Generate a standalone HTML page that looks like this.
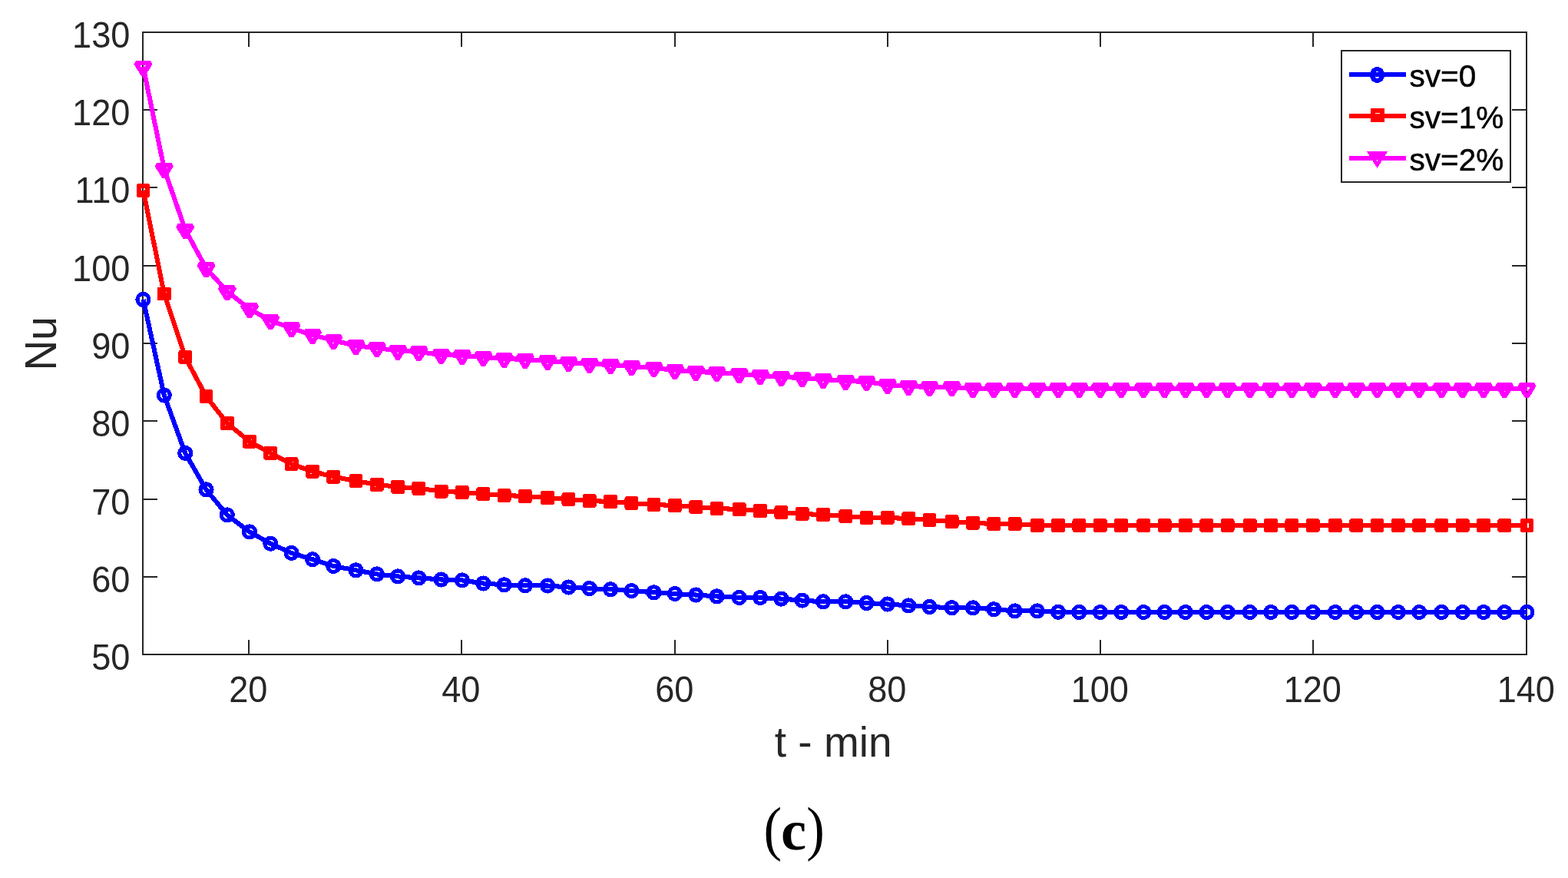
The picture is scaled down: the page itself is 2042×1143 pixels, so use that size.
<!DOCTYPE html>
<html lang="en">
<head>
<meta charset="utf-8">
<title>Nu versus t - min</title>
<style>
html,body{margin:0;padding:0;background:#fff;}
body{width:2042px;height:1143px;overflow:hidden;}
svg{display:block;}
</style>
</head>
<body>
<svg width="2042" height="1143" viewBox="0 0 2042 1143" role="img" aria-label="Nu versus t - min">
<rect x="0" y="0" width="2042" height="1143" fill="#fff"/>
<g fill="none" stroke="#262626" stroke-width="2" shape-rendering="crispEdges">
<rect x="186" y="42" width="1802" height="810"/>
<path d="M324 852V833M324 42V61M601 852V833M601 42V61M879 852V833M879 42V61M1156 852V833M1156 42V61M1433 852V833M1433 42V61M1710 852V833M1710 42V61M186 143H205M1988 143H1969M186 244H205M1988 244H1969M186 346H205M1988 346H1969M186 447H205M1988 447H1969M186 548H205M1988 548H1969M186 650H205M1988 650H1969M186 751H205M1988 751H1969"/>
</g>
<defs>
<circle id="mc" cx="0" cy="0" r="7.5" fill="none" stroke="#0000ff" stroke-width="5.2"/>
<rect id="ms" x="-5.9" y="-5.9" width="11.8" height="11.8" fill="none" stroke="#ff0000" stroke-width="6.1" stroke-linejoin="round"/>
<path id="mt" d="M-9.5 -4.85H9.5L0 10.5Z" fill="none" stroke="#ff00ff" stroke-width="6.1" stroke-linejoin="bevel"/>
<ellipse id="lc" cx="0" cy="0" rx="6.6" ry="7.45" fill="none" stroke="#0000ff" stroke-width="6"/>
<rect id="ls" x="-6" y="-6" width="12" height="12" fill="none" stroke="#ff0000" stroke-width="6"/>
<path id="lt" d="M-8.4 -5.6H8.4L0 7.9Z" fill="none" stroke="#ff00ff" stroke-width="6"/>
</defs>
<polyline points="186.5,390.0 213.8,514.5 241.2,589.9 268.5,637.4 295.8,670.4 325.0,692.4 352.3,707.7 379.6,719.9 407.0,728.2 434.3,737.0 463.5,742.4 490.8,747.4 518.1,750.4 545.4,752.4 574.6,754.5 601.9,755.4 629.3,759.5 656.6,761.3 683.9,762.3 713.1,762.5 740.4,764.5 767.7,766.1 795.1,767.3 822.4,769.1 851.5,771.3 878.9,773.0 906.2,774.5 933.5,776.4 962.7,778.0 990.0,778.0 1017.4,779.6 1044.7,781.6 1072.0,783.3 1101.2,783.3 1128.5,785.0 1155.8,786.5 1183.2,788.4 1210.5,790.0 1239.6,791.2 1267.0,791.4 1294.3,793.2 1321.6,795.4 1350.8,795.4 1378.1,796.8 1405.4,797.0 1432.8,797.0 1460.1,797.0 1489.3,797.0 1516.6,797.0 1543.9,797.0 1571.3,797.0 1598.6,797.0 1627.7,797.0 1655.1,797.0 1682.4,797.0 1709.7,797.0 1738.9,797.0 1766.2,797.0 1793.5,797.0 1820.9,797.0 1848.2,797.0 1877.4,797.0 1904.7,797.0 1932.0,797.0 1959.3,797.0 1988.5,797.0" fill="none" stroke="#0000ff" stroke-width="6.1" stroke-linejoin="round" shape-rendering="crispEdges"/>
<g shape-rendering="crispEdges"><use href="#mc" x="186.5" y="390.0"/><use href="#mc" x="213.8" y="514.5"/><use href="#mc" x="241.2" y="589.9"/><use href="#mc" x="268.5" y="637.4"/><use href="#mc" x="295.8" y="670.4"/><use href="#mc" x="325.0" y="692.4"/><use href="#mc" x="352.3" y="707.7"/><use href="#mc" x="379.6" y="719.9"/><use href="#mc" x="407.0" y="728.2"/><use href="#mc" x="434.3" y="737.0"/><use href="#mc" x="463.5" y="742.4"/><use href="#mc" x="490.8" y="747.4"/><use href="#mc" x="518.1" y="750.4"/><use href="#mc" x="545.4" y="752.4"/><use href="#mc" x="574.6" y="754.5"/><use href="#mc" x="601.9" y="755.4"/><use href="#mc" x="629.3" y="759.5"/><use href="#mc" x="656.6" y="761.3"/><use href="#mc" x="683.9" y="762.3"/><use href="#mc" x="713.1" y="762.5"/><use href="#mc" x="740.4" y="764.5"/><use href="#mc" x="767.7" y="766.1"/><use href="#mc" x="795.1" y="767.3"/><use href="#mc" x="822.4" y="769.1"/><use href="#mc" x="851.5" y="771.3"/><use href="#mc" x="878.9" y="773.0"/><use href="#mc" x="906.2" y="774.5"/><use href="#mc" x="933.5" y="776.4"/><use href="#mc" x="962.7" y="778.0"/><use href="#mc" x="990.0" y="778.0"/><use href="#mc" x="1017.4" y="779.6"/><use href="#mc" x="1044.7" y="781.6"/><use href="#mc" x="1072.0" y="783.3"/><use href="#mc" x="1101.2" y="783.3"/><use href="#mc" x="1128.5" y="785.0"/><use href="#mc" x="1155.8" y="786.5"/><use href="#mc" x="1183.2" y="788.4"/><use href="#mc" x="1210.5" y="790.0"/><use href="#mc" x="1239.6" y="791.2"/><use href="#mc" x="1267.0" y="791.4"/><use href="#mc" x="1294.3" y="793.2"/><use href="#mc" x="1321.6" y="795.4"/><use href="#mc" x="1350.8" y="795.4"/><use href="#mc" x="1378.1" y="796.8"/><use href="#mc" x="1405.4" y="797.0"/><use href="#mc" x="1432.8" y="797.0"/><use href="#mc" x="1460.1" y="797.0"/><use href="#mc" x="1489.3" y="797.0"/><use href="#mc" x="1516.6" y="797.0"/><use href="#mc" x="1543.9" y="797.0"/><use href="#mc" x="1571.3" y="797.0"/><use href="#mc" x="1598.6" y="797.0"/><use href="#mc" x="1627.7" y="797.0"/><use href="#mc" x="1655.1" y="797.0"/><use href="#mc" x="1682.4" y="797.0"/><use href="#mc" x="1709.7" y="797.0"/><use href="#mc" x="1738.9" y="797.0"/><use href="#mc" x="1766.2" y="797.0"/><use href="#mc" x="1793.5" y="797.0"/><use href="#mc" x="1820.9" y="797.0"/><use href="#mc" x="1848.2" y="797.0"/><use href="#mc" x="1877.4" y="797.0"/><use href="#mc" x="1904.7" y="797.0"/><use href="#mc" x="1932.0" y="797.0"/><use href="#mc" x="1959.3" y="797.0"/><use href="#mc" x="1988.5" y="797.0"/></g>
<polyline points="186.5,247.9 213.8,382.5 241.2,464.9 268.5,516.2 295.8,550.8 325.0,574.9 352.3,589.9 379.6,604.1 407.0,613.7 434.3,620.7 463.5,626.1 490.8,630.8 518.1,633.9 545.4,635.8 574.6,639.6 601.9,641.0 629.3,643.0 656.6,645.0 683.9,646.0 713.1,648.0 740.4,650.0 767.7,652.0 795.1,653.0 822.4,655.0 851.5,657.0 878.9,658.0 906.2,660.0 933.5,661.9 962.7,663.1 990.0,665.1 1017.4,666.9 1044.7,669.0 1072.0,670.1 1101.2,672.0 1128.5,673.9 1155.8,673.9 1183.2,675.1 1210.5,677.0 1239.6,678.9 1267.0,680.8 1294.3,682.0 1321.6,682.0 1350.8,683.9 1378.1,684.0 1405.4,684.0 1432.8,684.0 1460.1,684.0 1489.3,684.0 1516.6,684.0 1543.9,684.0 1571.3,684.0 1598.6,684.0 1627.7,684.0 1655.1,684.0 1682.4,684.0 1709.7,684.0 1738.9,684.0 1766.2,684.0 1793.5,684.0 1820.9,684.0 1848.2,684.0 1877.4,684.0 1904.7,684.0 1932.0,684.0 1959.3,684.0 1988.5,684.0" fill="none" stroke="#ff0000" stroke-width="6.1" stroke-linejoin="round" shape-rendering="crispEdges"/>
<g shape-rendering="crispEdges"><use href="#ms" x="186.5" y="247.9"/><use href="#ms" x="213.8" y="382.5"/><use href="#ms" x="241.2" y="464.9"/><use href="#ms" x="268.5" y="516.2"/><use href="#ms" x="295.8" y="550.8"/><use href="#ms" x="325.0" y="574.9"/><use href="#ms" x="352.3" y="589.9"/><use href="#ms" x="379.6" y="604.1"/><use href="#ms" x="407.0" y="613.7"/><use href="#ms" x="434.3" y="620.7"/><use href="#ms" x="463.5" y="626.1"/><use href="#ms" x="490.8" y="630.8"/><use href="#ms" x="518.1" y="633.9"/><use href="#ms" x="545.4" y="635.8"/><use href="#ms" x="574.6" y="639.6"/><use href="#ms" x="601.9" y="641.0"/><use href="#ms" x="629.3" y="643.0"/><use href="#ms" x="656.6" y="645.0"/><use href="#ms" x="683.9" y="646.0"/><use href="#ms" x="713.1" y="648.0"/><use href="#ms" x="740.4" y="650.0"/><use href="#ms" x="767.7" y="652.0"/><use href="#ms" x="795.1" y="653.0"/><use href="#ms" x="822.4" y="655.0"/><use href="#ms" x="851.5" y="657.0"/><use href="#ms" x="878.9" y="658.0"/><use href="#ms" x="906.2" y="660.0"/><use href="#ms" x="933.5" y="661.9"/><use href="#ms" x="962.7" y="663.1"/><use href="#ms" x="990.0" y="665.1"/><use href="#ms" x="1017.4" y="666.9"/><use href="#ms" x="1044.7" y="669.0"/><use href="#ms" x="1072.0" y="670.1"/><use href="#ms" x="1101.2" y="672.0"/><use href="#ms" x="1128.5" y="673.9"/><use href="#ms" x="1155.8" y="673.9"/><use href="#ms" x="1183.2" y="675.1"/><use href="#ms" x="1210.5" y="677.0"/><use href="#ms" x="1239.6" y="678.9"/><use href="#ms" x="1267.0" y="680.8"/><use href="#ms" x="1294.3" y="682.0"/><use href="#ms" x="1321.6" y="682.0"/><use href="#ms" x="1350.8" y="683.9"/><use href="#ms" x="1378.1" y="684.0"/><use href="#ms" x="1405.4" y="684.0"/><use href="#ms" x="1432.8" y="684.0"/><use href="#ms" x="1460.1" y="684.0"/><use href="#ms" x="1489.3" y="684.0"/><use href="#ms" x="1516.6" y="684.0"/><use href="#ms" x="1543.9" y="684.0"/><use href="#ms" x="1571.3" y="684.0"/><use href="#ms" x="1598.6" y="684.0"/><use href="#ms" x="1627.7" y="684.0"/><use href="#ms" x="1655.1" y="684.0"/><use href="#ms" x="1682.4" y="684.0"/><use href="#ms" x="1709.7" y="684.0"/><use href="#ms" x="1738.9" y="684.0"/><use href="#ms" x="1766.2" y="684.0"/><use href="#ms" x="1793.5" y="684.0"/><use href="#ms" x="1820.9" y="684.0"/><use href="#ms" x="1848.2" y="684.0"/><use href="#ms" x="1877.4" y="684.0"/><use href="#ms" x="1904.7" y="684.0"/><use href="#ms" x="1932.0" y="684.0"/><use href="#ms" x="1959.3" y="684.0"/><use href="#ms" x="1988.5" y="684.0"/></g>
<polyline points="186.5,86.9 213.8,219.9 241.2,299.0 268.5,349.3 295.8,379.3 325.0,402.3 352.3,417.3 379.6,427.3 407.0,436.1 434.3,443.1 463.5,450.3 490.8,453.1 518.1,456.4 545.4,458.1 574.6,461.9 601.9,462.9 629.3,464.9 656.6,467.0 683.9,467.9 713.1,469.9 740.4,472.0 767.7,473.7 795.1,475.0 822.4,477.0 851.5,479.0 878.9,482.0 906.2,484.0 933.5,485.0 962.7,487.0 990.0,489.0 1017.4,490.9 1044.7,492.0 1072.0,494.0 1101.2,495.9 1128.5,497.0 1155.8,500.9 1183.2,502.9 1210.5,504.0 1239.6,504.0 1267.0,506.0 1294.3,506.0 1321.6,506.0 1350.8,506.0 1378.1,506.0 1405.4,506.0 1432.8,506.0 1460.1,506.0 1489.3,506.0 1516.6,506.0 1543.9,506.0 1571.3,506.0 1598.6,506.0 1627.7,506.0 1655.1,506.0 1682.4,506.0 1709.7,506.0 1738.9,506.0 1766.2,506.0 1793.5,506.0 1820.9,506.0 1848.2,506.0 1877.4,506.0 1904.7,506.0 1932.0,506.0 1959.3,506.0 1988.5,506.0" fill="none" stroke="#ff00ff" stroke-width="6.1" stroke-linejoin="round" shape-rendering="crispEdges"/>
<g shape-rendering="crispEdges"><use href="#mt" x="186.5" y="86.9"/><use href="#mt" x="213.8" y="219.9"/><use href="#mt" x="241.2" y="299.0"/><use href="#mt" x="268.5" y="349.3"/><use href="#mt" x="295.8" y="379.3"/><use href="#mt" x="325.0" y="402.3"/><use href="#mt" x="352.3" y="417.3"/><use href="#mt" x="379.6" y="427.3"/><use href="#mt" x="407.0" y="436.1"/><use href="#mt" x="434.3" y="443.1"/><use href="#mt" x="463.5" y="450.3"/><use href="#mt" x="490.8" y="453.1"/><use href="#mt" x="518.1" y="456.4"/><use href="#mt" x="545.4" y="458.1"/><use href="#mt" x="574.6" y="461.9"/><use href="#mt" x="601.9" y="462.9"/><use href="#mt" x="629.3" y="464.9"/><use href="#mt" x="656.6" y="467.0"/><use href="#mt" x="683.9" y="467.9"/><use href="#mt" x="713.1" y="469.9"/><use href="#mt" x="740.4" y="472.0"/><use href="#mt" x="767.7" y="473.7"/><use href="#mt" x="795.1" y="475.0"/><use href="#mt" x="822.4" y="477.0"/><use href="#mt" x="851.5" y="479.0"/><use href="#mt" x="878.9" y="482.0"/><use href="#mt" x="906.2" y="484.0"/><use href="#mt" x="933.5" y="485.0"/><use href="#mt" x="962.7" y="487.0"/><use href="#mt" x="990.0" y="489.0"/><use href="#mt" x="1017.4" y="490.9"/><use href="#mt" x="1044.7" y="492.0"/><use href="#mt" x="1072.0" y="494.0"/><use href="#mt" x="1101.2" y="495.9"/><use href="#mt" x="1128.5" y="497.0"/><use href="#mt" x="1155.8" y="500.9"/><use href="#mt" x="1183.2" y="502.9"/><use href="#mt" x="1210.5" y="504.0"/><use href="#mt" x="1239.6" y="504.0"/><use href="#mt" x="1267.0" y="506.0"/><use href="#mt" x="1294.3" y="506.0"/><use href="#mt" x="1321.6" y="506.0"/><use href="#mt" x="1350.8" y="506.0"/><use href="#mt" x="1378.1" y="506.0"/><use href="#mt" x="1405.4" y="506.0"/><use href="#mt" x="1432.8" y="506.0"/><use href="#mt" x="1460.1" y="506.0"/><use href="#mt" x="1489.3" y="506.0"/><use href="#mt" x="1516.6" y="506.0"/><use href="#mt" x="1543.9" y="506.0"/><use href="#mt" x="1571.3" y="506.0"/><use href="#mt" x="1598.6" y="506.0"/><use href="#mt" x="1627.7" y="506.0"/><use href="#mt" x="1655.1" y="506.0"/><use href="#mt" x="1682.4" y="506.0"/><use href="#mt" x="1709.7" y="506.0"/><use href="#mt" x="1738.9" y="506.0"/><use href="#mt" x="1766.2" y="506.0"/><use href="#mt" x="1793.5" y="506.0"/><use href="#mt" x="1820.9" y="506.0"/><use href="#mt" x="1848.2" y="506.0"/><use href="#mt" x="1877.4" y="506.0"/><use href="#mt" x="1904.7" y="506.0"/><use href="#mt" x="1932.0" y="506.0"/><use href="#mt" x="1959.3" y="506.0"/><use href="#mt" x="1988.5" y="506.0"/></g>
<rect x="1747" y="66" width="220" height="171" fill="#fff" stroke="#262626" stroke-width="2" shape-rendering="crispEdges"/>
<line x1="1757" y1="97" x2="1831" y2="97" stroke="#0000ff" stroke-width="6" shape-rendering="crispEdges"/>
<use href="#lc" x="1793.5" y="97.45" shape-rendering="crispEdges"/>
<text transform="translate(1835.4 113.3)" font-family="'Liberation Sans', Arial, Helvetica, sans-serif" font-size="40.6" text-anchor="start" fill="#000" stroke="#000" stroke-width="0.5">sv=0</text>
<line x1="1757" y1="151" x2="1831" y2="151" stroke="#ff0000" stroke-width="6" shape-rendering="crispEdges"/>
<use href="#ls" x="1794" y="150" shape-rendering="crispEdges"/>
<text transform="translate(1835.4 167.3)" font-family="'Liberation Sans', Arial, Helvetica, sans-serif" font-size="40.6" text-anchor="start" fill="#000" stroke="#000" stroke-width="0.5">sv=1%</text>
<line x1="1757" y1="205.5" x2="1831" y2="205.5" stroke="#ff00ff" stroke-width="6" shape-rendering="crispEdges"/>
<use href="#lt" x="1793.5" y="205.5" shape-rendering="crispEdges"/>
<rect x="1793" y="208" width="1" height="2" fill="#fff" shape-rendering="crispEdges"/>
<text transform="translate(1835.4 221.8)" font-family="'Liberation Sans', Arial, Helvetica, sans-serif" font-size="40.6" text-anchor="start" fill="#000" stroke="#000" stroke-width="0.5">sv=2%</text>
<text transform="translate(169.4 162.8) scale(0.935 1)" font-family="'Liberation Sans', Arial, Helvetica, sans-serif" font-size="48.3" text-anchor="end" fill="#262626">120</text>
<text transform="translate(169.4 263.8) scale(0.935 1)" font-family="'Liberation Sans', Arial, Helvetica, sans-serif" font-size="48.3" text-anchor="end" fill="#262626">110</text>
<text transform="translate(169.4 365.8) scale(0.935 1)" font-family="'Liberation Sans', Arial, Helvetica, sans-serif" font-size="48.3" text-anchor="end" fill="#262626">100</text>
<text transform="translate(169.4 466.8) scale(0.935 1)" font-family="'Liberation Sans', Arial, Helvetica, sans-serif" font-size="48.3" text-anchor="end" fill="#262626">90</text>
<text transform="translate(169.4 567.8) scale(0.935 1)" font-family="'Liberation Sans', Arial, Helvetica, sans-serif" font-size="48.3" text-anchor="end" fill="#262626">80</text>
<text transform="translate(169.4 669.8) scale(0.935 1)" font-family="'Liberation Sans', Arial, Helvetica, sans-serif" font-size="48.3" text-anchor="end" fill="#262626">70</text>
<text transform="translate(169.4 770.8) scale(0.935 1)" font-family="'Liberation Sans', Arial, Helvetica, sans-serif" font-size="48.3" text-anchor="end" fill="#262626">60</text>
<text transform="translate(169.4 61.8) scale(0.935 1)" font-family="'Liberation Sans', Arial, Helvetica, sans-serif" font-size="48.3" text-anchor="end" fill="#262626">130</text>
<text transform="translate(169.4 871.8) scale(0.935 1)" font-family="'Liberation Sans', Arial, Helvetica, sans-serif" font-size="48.3" text-anchor="end" fill="#262626">50</text>
<text transform="translate(323.3 914.4) scale(0.935 1)" font-family="'Liberation Sans', Arial, Helvetica, sans-serif" font-size="48.3" text-anchor="middle" fill="#262626">20</text>
<text transform="translate(600.3 914.4) scale(0.935 1)" font-family="'Liberation Sans', Arial, Helvetica, sans-serif" font-size="48.3" text-anchor="middle" fill="#262626">40</text>
<text transform="translate(878.3 914.4) scale(0.935 1)" font-family="'Liberation Sans', Arial, Helvetica, sans-serif" font-size="48.3" text-anchor="middle" fill="#262626">60</text>
<text transform="translate(1155.3 914.4) scale(0.935 1)" font-family="'Liberation Sans', Arial, Helvetica, sans-serif" font-size="48.3" text-anchor="middle" fill="#262626">80</text>
<text transform="translate(1432.3 914.4) scale(0.935 1)" font-family="'Liberation Sans', Arial, Helvetica, sans-serif" font-size="48.3" text-anchor="middle" fill="#262626">100</text>
<text transform="translate(1709.3 914.4) scale(0.935 1)" font-family="'Liberation Sans', Arial, Helvetica, sans-serif" font-size="48.3" text-anchor="middle" fill="#262626">120</text>
<text transform="translate(1987.3 914.4) scale(0.935 1)" font-family="'Liberation Sans', Arial, Helvetica, sans-serif" font-size="48.3" text-anchor="middle" fill="#262626">140</text>
<text transform="translate(1085.2 984.7) scale(0.995 1)" font-family="'Liberation Sans', Arial, Helvetica, sans-serif" font-size="55.3" text-anchor="middle" fill="#262626">t - min</text>
<text transform="translate(73.3 447.3) rotate(-90) scale(0.965 1)" font-family="'Liberation Sans', Arial, Helvetica, sans-serif" font-size="57" text-anchor="middle" fill="#262626">Nu</text>
<text y="1105.4" font-family="'Liberation Serif', 'Times New Roman', Times, serif" font-size="78.3" fill="#000"><tspan x="994.6" textLength="23.6" lengthAdjust="spacingAndGlyphs">(</tspan><tspan x="1017.1" y="1105.8" font-size="74.5" font-weight="bold">c</tspan><tspan x="1050.2" y="1105.4" font-size="78.3" textLength="23.6" lengthAdjust="spacingAndGlyphs">)</tspan></text>
</svg>
</body>
</html>
